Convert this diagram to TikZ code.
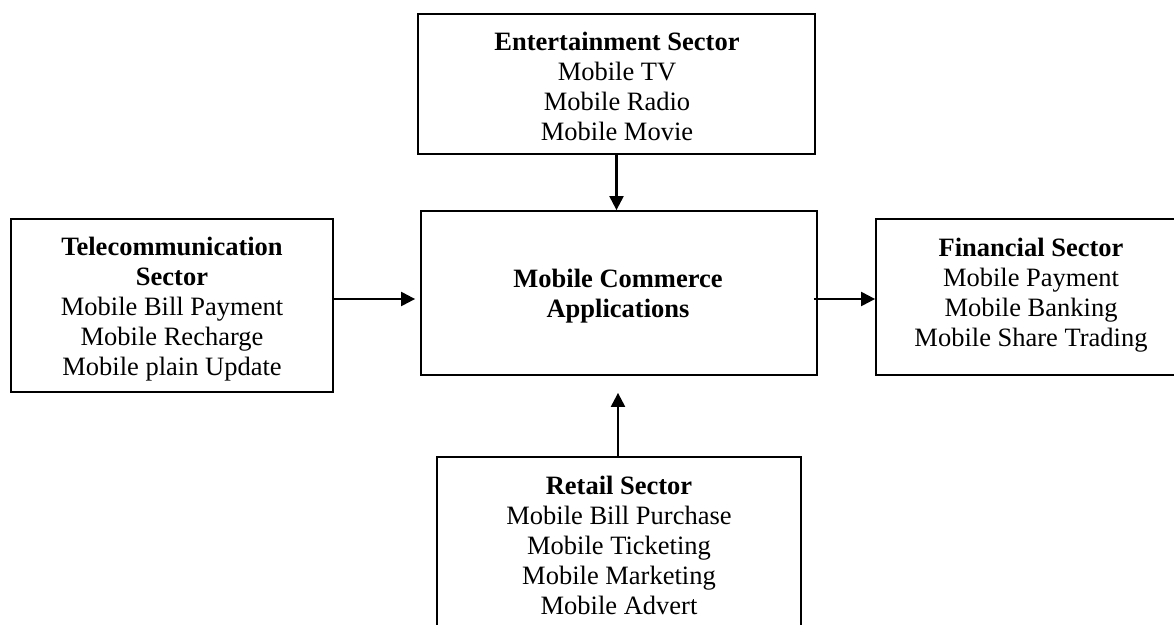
\documentclass[tikz,border=0pt]{standalone}
\usepackage{fontspec}
\setmainfont{Liberation Serif}
\usetikzlibrary{arrows.meta,calc}
\tikzset{
  box/.style={draw=black, line width=1.8pt, inner sep=0pt},
  label/.style={align=center, inner sep=0pt, anchor=base,
    font=\fontsize{26.5}{30}\selectfont},
  arr/.style={line width=2.2pt, -{Triangle[length=14pt, width=14pt]}}
}
\begin{document}
\begin{tikzpicture}[x=1pt, y=-1pt]
\useasboundingbox (0,0) rectangle (1174,624);
\clip (0,0) rectangle (1174,624);
\fill[white] (0,0) rectangle (1174,624);

% frames of the five blocks
\node[box, minimum width=397pt, minimum height=140pt] (ent) at (616.5,84) {};
\node[box, minimum width=396pt, minimum height=164pt] (mca) at (619,293) {};
\node[box, minimum width=322pt, minimum height=173pt] (tel) at (172,305.5) {};
\node[box, minimum width=314pt, minimum height=156pt] (fin) at (1033,297) {};
\node[box, minimum width=364pt, minimum height=203pt] (ret) at (619,558.5) {};

% block texts (anchored at the baseline of their last line)
\node[label] (entT) at (617,140) {\textbf{Entertainment Sector}\\Mobile TV\\Mobile Radio\\Mobile Movie};
\node[label] (mcaT) at (618,317) {\textbf{Mobile Commerce}\\\textbf{Applications}};
\node[label] (telT) at (172,375) {\textbf{Telecommunication}\\\textbf{Sector}\\Mobile Bill Payment\\Mobile Recharge\\Mobile plain Update};
\node[label] (finT) at (1031,346) {\textbf{Financial Sector}\\Mobile Payment\\Mobile Banking\\Mobile Share Trading};
\node[label] (retT) at (619,614) {\textbf{Retail Sector}\\Mobile Bill Purchase\\Mobile Ticketing\\Mobile Marketing\\Mobile Advert};

% connectors
\draw[arr] (ent.south) -- (ent.south |- mca.north);
\coordinate (telOut) at ($(tel.east)+(0,-6.5)$);
\draw[arr, shorten >=5pt] (telOut) -- (telOut -| mca.west);
\coordinate (mcaOut) at ($(mca.east)+(-4,6)$);
\draw[arr] (mcaOut) -- (mcaOut -| fin.west);
\coordinate (retOut) at ($(ret.north)+(-1,0)$);
\draw[arr, shorten >=17pt] (retOut) -- (retOut |- mca.south);
\end{tikzpicture}
\end{document}
